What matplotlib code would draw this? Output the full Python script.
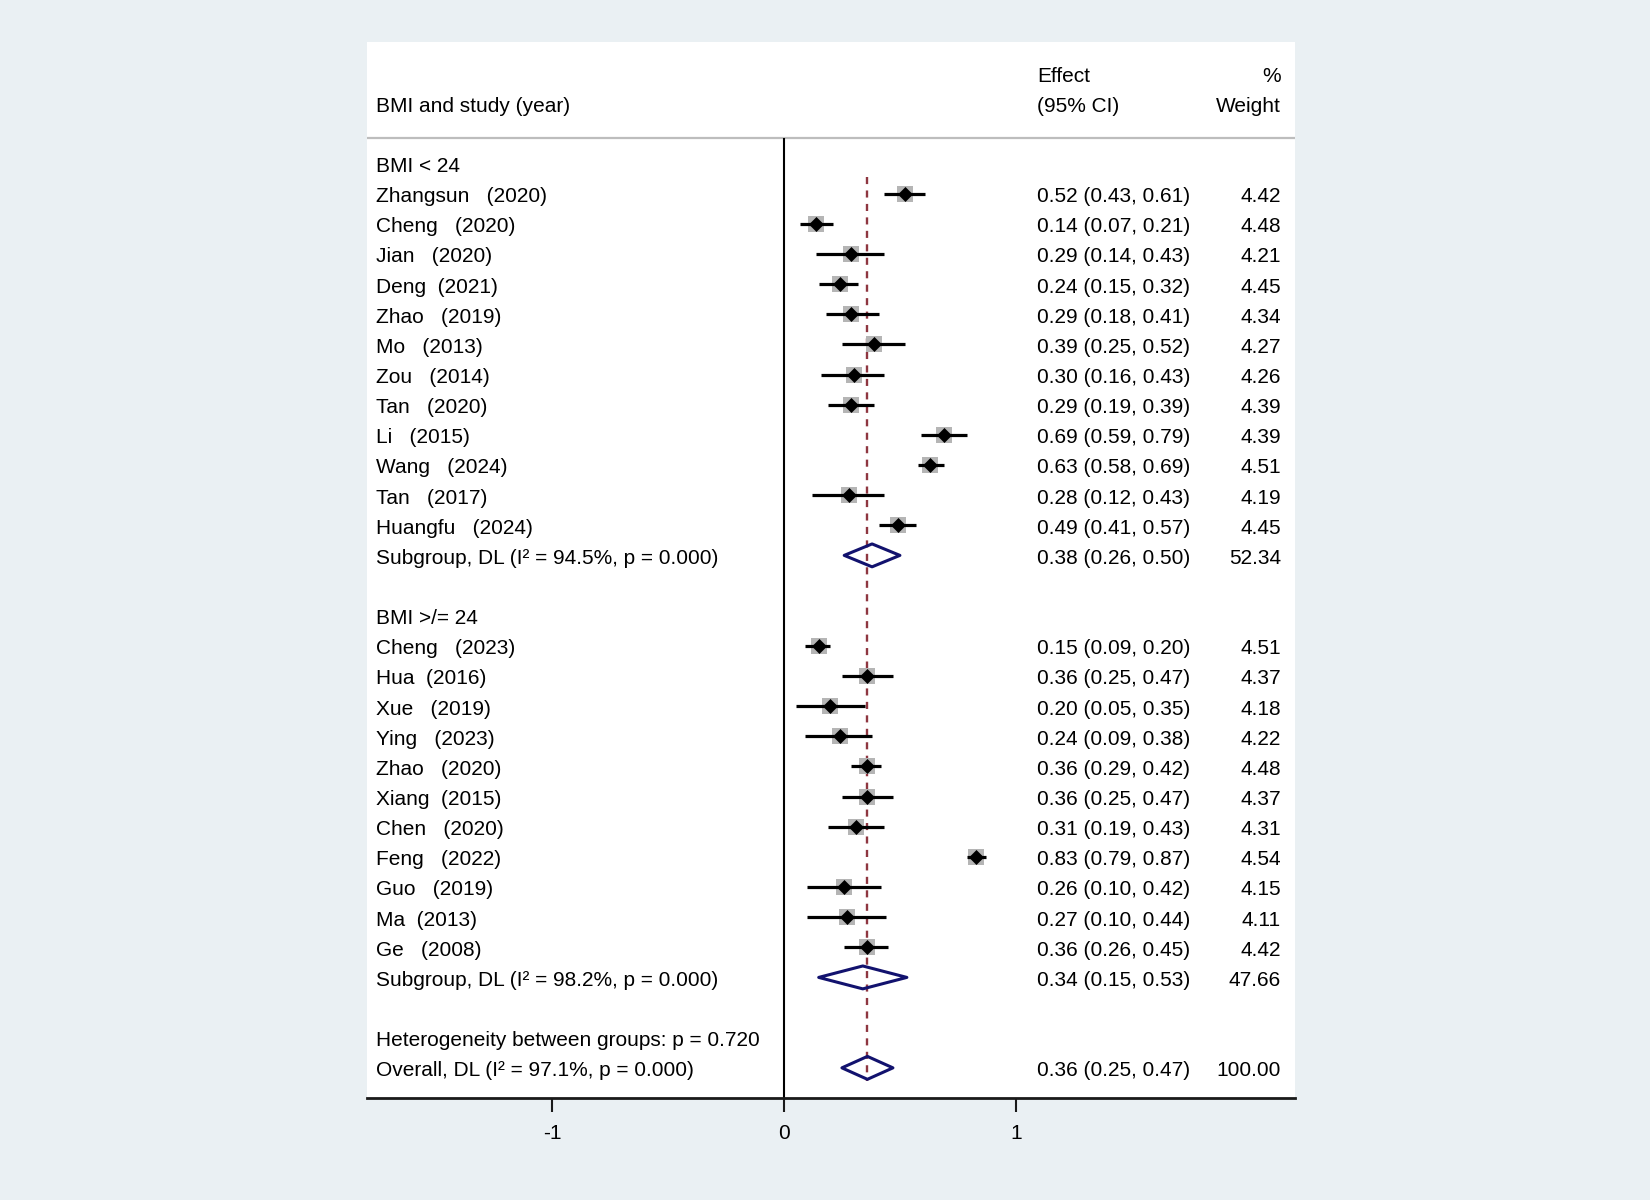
import matplotlib.pyplot as plt
from matplotlib.patches import Polygon

# study rows, group 1 (BMI < 24)
names1 = ["Zhangsun   (2020)", "Cheng   (2020)", "Jian   (2020)", "Deng  (2021)",
          "Zhao   (2019)", "Mo   (2013)", "Zou   (2014)", "Tan   (2020)",
          "Li   (2015)", "Wang   (2024)", "Tan   (2017)", "Huangfu   (2024)"]
est1 = [0.52, 0.14, 0.29, 0.24, 0.29, 0.39, 0.30, 0.29, 0.69, 0.63, 0.28, 0.49]
lo1 = [0.43, 0.07, 0.14, 0.15, 0.18, 0.25, 0.16, 0.19, 0.59, 0.58, 0.12, 0.41]
hi1 = [0.61, 0.21, 0.43, 0.32, 0.41, 0.52, 0.43, 0.39, 0.79, 0.69, 0.43, 0.57]
w1 = [4.42, 4.48, 4.21, 4.45, 4.34, 4.27, 4.26, 4.39, 4.39, 4.51, 4.19, 4.45]

# group 2 (BMI >= 24)
names2 = ["Cheng   (2023)", "Hua  (2016)", "Xue   (2019)", "Ying   (2023)",
          "Zhao   (2020)", "Xiang  (2015)", "Chen   (2020)", "Feng   (2022)",
          "Guo   (2019)", "Ma  (2013)", "Ge   (2008)"]
est2 = [0.15, 0.36, 0.20, 0.24, 0.36, 0.36, 0.31, 0.83, 0.26, 0.27, 0.36]
lo2 = [0.09, 0.25, 0.05, 0.09, 0.29, 0.25, 0.19, 0.79, 0.10, 0.10, 0.26]
hi2 = [0.20, 0.47, 0.35, 0.38, 0.42, 0.47, 0.43, 0.87, 0.42, 0.44, 0.45]
w2 = [4.51, 4.37, 4.18, 4.22, 4.48, 4.37, 4.31, 4.54, 4.15, 4.11, 4.42]

# pooled estimates: subgroup 1, subgroup 2, overall
pool_labels = ["Subgroup, DL (I² = 94.5%, p = 0.000)",
               "Subgroup, DL (I² = 98.2%, p = 0.000)",
               "Overall, DL (I² = 97.1%, p = 0.000)"]
pool_est = [0.38, 0.34, 0.36]
pool_lo = [0.26, 0.15, 0.25]
pool_hi = [0.50, 0.53, 0.47]
pool_w = [52.34, 47.66, 100.00]

group_titles = ["BMI < 24", "BMI >/= 24"]
het_text = "Heterogeneity between groups: p = 0.720"
xticks = [-1, 0, 1]
xticklabels = ["-1", "0", "1"]

BG = "#eaf0f3"
NAVY = "#12126e"
MAROON = "#8e3640"
FS = 15
TY = 0.1  # small downward nudge so text centres sit on the marker rows
plt.rcParams['font.family'] = ['Liberation Sans', 'DejaVu Sans']

fig = plt.figure(figsize=(16.5, 12), dpi=100, facecolor=BG)
ax = fig.add_axes([367 / 1650, 102 / 1200, 928 / 1650, 1056 / 1200])
ax.set_facecolor("white")
ax.set_xlim(-1.797, 2.203)
ax.set_ylim(31, -4.03)

x_lab = -1.759
x_eff = 1.0905
x_wt = 2.142

# row positions
r1 = list(range(1, 1 + len(names1)))
r_sub1 = r1[-1] + 1
r_g2 = r_sub1 + 2
r2 = list(range(r_g2 + 1, r_g2 + 1 + len(names2)))
r_sub2 = r2[-1] + 1
r_het = r_sub2 + 2
r_all = r_het + 1
pool_rows = [r_sub1, r_sub2, r_all]


def txt(x, r, s, ha="left"):
    ax.text(x, r + TY, s, fontsize=FS, va="center", ha=ha)


# header
txt(x_lab, -2, "BMI and study (year)")
txt(x_eff, -3, "Effect")
txt(x_eff, -2, "(95% CI)")
txt(x_wt, -3, "%", ha="right")
txt(x_wt, -2, "Weight", ha="right")
ax.axhline(-0.83, color="#bdbdbd", lw=1.6)

# null line and overall line
ax.plot([0, 0], [-0.83, 31], color="black", lw=1.5, solid_capstyle="butt")
ax.plot([pool_est[2], pool_est[2]], [0.45, 30.45], color=MAROON, lw=1.7,
        linestyle=(0, (3, 2.7)))

txt(x_lab, 0, group_titles[0])
txt(x_lab, r_g2, group_titles[1])
txt(x_lab, r_het, het_text)


def draw_studies(rows, names, est, lo, hi, w):
    for r, n, e, l, h, wt in zip(rows, names, est, lo, hi, w):
        ax.plot(e, r, marker="s", color="#b5b5b5", ms=11.5 * (wt / 4.4) ** 0.5,
                mew=0, zorder=2)
        ax.plot([l, h], [r, r], color="black", lw=2.3, solid_capstyle="butt", zorder=3)
        ax.plot(e, r, marker="D", color="black", ms=6.8, mew=0.5, zorder=4)
        txt(x_lab, r, n)
        txt(x_eff, r, f"{e:.2f} ({l:.2f}, {h:.2f})")
        txt(x_wt, r, f"{wt:.2f}", ha="right")


draw_studies(r1, names1, est1, lo1, hi1, w1)
draw_studies(r2, names2, est2, lo2, hi2, w2)

for r, lab, e, l, h, wt in zip(pool_rows, pool_labels, pool_est, pool_lo, pool_hi, pool_w):
    dh = 0.38
    ax.add_patch(Polygon([(l, r), (e, r - dh), (h, r), (e, r + dh)], closed=True,
                         fill=False, edgecolor=NAVY, lw=2.2, joinstyle="round",
                         zorder=5))
    txt(x_lab, r, lab)
    txt(x_eff, r, f"{e:.2f} ({l:.2f}, {h:.2f})")
    txt(x_wt, r, f"{wt:.2f}", ha="right")

for s in ["top", "left", "right"]:
    ax.spines[s].set_visible(False)
ax.spines["bottom"].set_linewidth(2)
ax.spines["bottom"].set_color("#1a1a1a")
ax.set_yticks([])
ax.set_xticks(xticks)
ax.set_xticklabels(xticklabels)
ax.tick_params(axis="x", direction="out", length=10, width=1.5, labelsize=FS,
               pad=8.5, color="#1a1a1a")

fig.savefig("out.png", dpi=100, facecolor=BG)
